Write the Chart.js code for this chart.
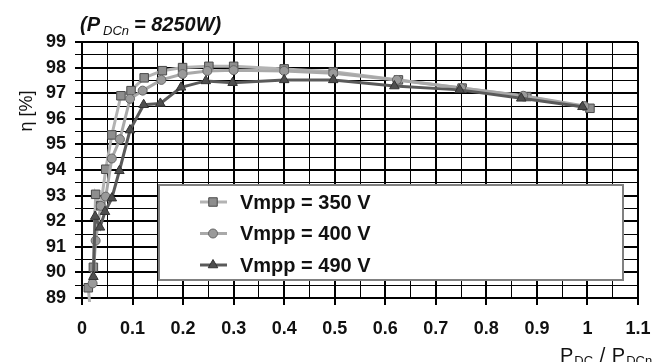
<!DOCTYPE html>
<html>
<head>
<meta charset="utf-8">
<script src="https://cdn.jsdelivr.net/npm/chart.js@4.4.0/dist/chart.umd.min.js"></script>
<style>
  html, body { margin: 0; padding: 0; background: #fff; }
  #wrap { width: 653px; height: 362px; }
</style>
</head>
<body>
<div id="wrap"><canvas id="eff" width="653" height="362"></canvas></div>
<script>
// P_DC / P_DCn (x) and efficiency in % (y)
const load350 = [0.016, 0.0125, 0.0225, 0.027, 0.037, 0.047, 0.059, 0.077, 0.097, 0.123, 0.159, 0.199, 0.251, 0.30, 0.40, 0.497, 0.626, 0.752, 0.88, 1.005];
const eta350  = [88.6, 89.4, 90.2, 93.05, 92.6, 94.03, 95.37, 96.9, 97.1, 97.6, 97.88, 98.0, 98.05, 98.05, 97.95, 97.84, 97.52, 97.2, 96.87, 96.41];

const load400 = [0.021, 0.027, 0.037, 0.047, 0.059, 0.075, 0.095, 0.12, 0.157, 0.199, 0.248, 0.30, 0.40, 0.497, 0.623, 0.75, 0.873, 0.994];
const eta400  = [89.57, 91.24, 92.6, 92.96, 94.45, 95.2, 96.78, 97.1, 97.52, 97.75, 97.87, 97.9, 97.87, 97.78, 97.52, 97.2, 96.9, 96.5];

const load490 = [0.0225, 0.026, 0.0356, 0.0455, 0.059, 0.074, 0.095, 0.122, 0.155, 0.196, 0.245, 0.298, 0.40, 0.497, 0.618, 0.747, 0.869, 0.99];
const eta490  = [89.83, 92.18, 91.76, 92.37, 92.9, 93.97, 95.56, 96.55, 96.6, 97.23, 97.48, 97.41, 97.52, 97.52, 97.28, 97.13, 96.8, 96.47];

const seriesLabels = ['Vmpp = 350 V', 'Vmpp = 400 V', 'Vmpp = 490 V'];
const xMin = 0, xMax = 1.1, xStep = 0.05;
const yMin = 89, yMax = 99, yStep = 0.5;

const FONT = '"Liberation Sans", Arial, sans-serif';

const toPoints = (xs, ys) => xs.map((x, i) => ({ x: x, y: ys[i] }));
const isMajorX = v => Math.abs(v * 10 - Math.round(v * 10)) < 1e-6;
const isMajorY = v => Math.abs(v - Math.round(v)) < 1e-6;

// legend box + axis titles drawn by hand, the original has them in odd places
const extras = {
  id: 'extras',
  afterDatasetsDraw(chart) {
    const ctx = chart.ctx;
    const a = chart.chartArea;
    const left = a.left + 77, top = a.top + 143;
    const right = a.right - 15, bottom = a.top + 238;
    ctx.save();
    ctx.fillStyle = '#fff';
    ctx.fillRect(left, top, right - left, bottom - top);
    ctx.strokeStyle = '#808080';
    ctx.lineWidth = 2;
    ctx.strokeRect(left, top, right - left, bottom - top);

    chart.data.datasets.forEach((ds, i) => {
      const y = top + 17 + i * 31.5;
      const x0 = left + 41;
      ctx.strokeStyle = ds.borderColor;
      ctx.lineWidth = ds.borderWidth;
      ctx.beginPath();
      ctx.moveTo(x0, y);
      ctx.lineTo(x0 + 27, y);
      ctx.stroke();
      ctx.fillStyle = ds.pointBackgroundColor;
      ctx.strokeStyle = ds.pointBorderColor;
      ctx.lineWidth = ds.pointBorderWidth;
      Chart.helpers.drawPoint(ctx, { pointStyle: ds.pointStyle, radius: ds.pointRadius, borderWidth: ds.pointBorderWidth, rotation: 0 }, x0 + 13, y);
      ctx.fillStyle = '#111';
      ctx.font = 'bold 20px ' + FONT;
      ctx.textBaseline = 'middle';
      ctx.textAlign = 'left';
      ctx.fillText(ds.label, x0 + 40, y + 1);
    });
    ctx.restore();
  },
  afterDraw(chart) {
    const ctx = chart.ctx;
    ctx.save();
    ctx.fillStyle = '#111';
    ctx.textBaseline = 'alphabetic';
    ctx.textAlign = 'left';

    // title (P_DCn = 8250W)
    let x = 80;
    ctx.font = 'italic bold 20px ' + FONT;
    ctx.fillText('(P', x, 31);
    x += ctx.measureText('(P').width + 3;
    ctx.font = 'italic 13px ' + FONT;
    ctx.fillText('DCn', x, 35);
    x += ctx.measureText('DCn').width + 5;
    ctx.font = 'italic bold 20px ' + FONT;
    ctx.fillText('= 8250W)', x, 31);

    // y title
    ctx.save();
    ctx.translate(27, 111);
    ctx.rotate(-Math.PI / 2);
    ctx.textAlign = 'center';
    ctx.textBaseline = 'middle';
    ctx.font = '18px ' + FONT;
    ctx.fillText('\u03b7 [%]', 0, 0);
    ctx.restore();

    // x title P_DC / P_DCn, runs off the bottom edge like the original
    x = 560;
    const parts = [['P', 20, 362], ['DC', 13, 365], [' / ', 20, 362], ['P', 20, 362], ['DCn', 13, 365]];
    parts.forEach(p => {
      ctx.font = p[1] + 'px ' + FONT;
      ctx.fillText(p[0], x, p[2]);
      x += ctx.measureText(p[0]).width + 1;
    });
    ctx.restore();
  }
};

const makeSet = (label, xs, ys, line, style, radius, fill, edge, order) => ({
  label: label,
  data: toPoints(xs, ys),
  showLine: true,
  borderColor: line,
  borderWidth: 3,
  pointStyle: style,
  pointRadius: radius,
  pointBackgroundColor: fill,
  pointBorderColor: edge,
  pointBorderWidth: 1,
  order: order,
  clip: { left: 6, top: 6, right: 6, bottom: 4 }
});

new Chart(document.getElementById('eff'), {
  type: 'scatter',
  data: {
    datasets: [
      makeSet(seriesLabels[0], load350, eta350, '#b3b3b3', 'rect', 6, '#8e8e8e', '#4a4a4a', 3),
      makeSet(seriesLabels[1], load400, eta400, '#a9a9a9', 'circle', 4.5, '#9a9a9a', '#666', 2),
      makeSet(seriesLabels[2], load490, eta490, '#5a5a5a', 'triangle', 5.5, '#4e4e4e', '#333', 1)
    ]
  },
  options: {
    responsive: false,
    animation: false,
    layout: { padding: { top: 42, right: 15, left: 0, bottom: 0 } },
    plugins: { legend: { display: false }, tooltip: { enabled: false } },
    scales: {
      x: {
        type: 'linear',
        min: xMin, max: xMax,
        // fixed height, and let the "1.1" label hang into the right margin
        afterFit: s => { s.height = 64; s.paddingRight = 0; s.paddingLeft = 0; },
        border: { color: '#000', width: 2 },
        grid: {
          color: '#000',
          lineWidth: c => isMajorX(c.tick.value) ? 2 : 1,
          tickLength: 7,
          tickColor: c => isMajorX(c.tick.value) ? '#000' : 'rgba(0,0,0,0)',
          tickWidth: 2
        },
        ticks: {
          stepSize: xStep,
          autoSkip: false,
          maxRotation: 0,
          padding: 13,
          color: '#111',
          font: { family: FONT, size: 18, weight: 'bold' },
          callback: v => isMajorX(v) ? String(Math.round(v * 10) / 10) : ''
        }
      },
      y: {
        min: yMin, max: yMax,
        afterFit: s => { s.width = 82; },
        border: { color: '#000', width: 2 },
        grid: {
          color: '#000',
          lineWidth: c => isMajorY(c.tick.value) ? 2 : 1,
          tickLength: 7,
          tickColor: '#000',
          tickWidth: c => isMajorY(c.tick.value) ? 2 : 1
        },
        ticks: {
          stepSize: yStep,
          autoSkip: false,
          padding: 9,
          color: '#111',
          font: { family: FONT, size: 18, weight: 'bold' },
          callback: v => isMajorY(v) ? String(Math.round(v)) : ''
        }
      }
    }
  },
  plugins: [extras]
});
</script>
</body>
</html>
